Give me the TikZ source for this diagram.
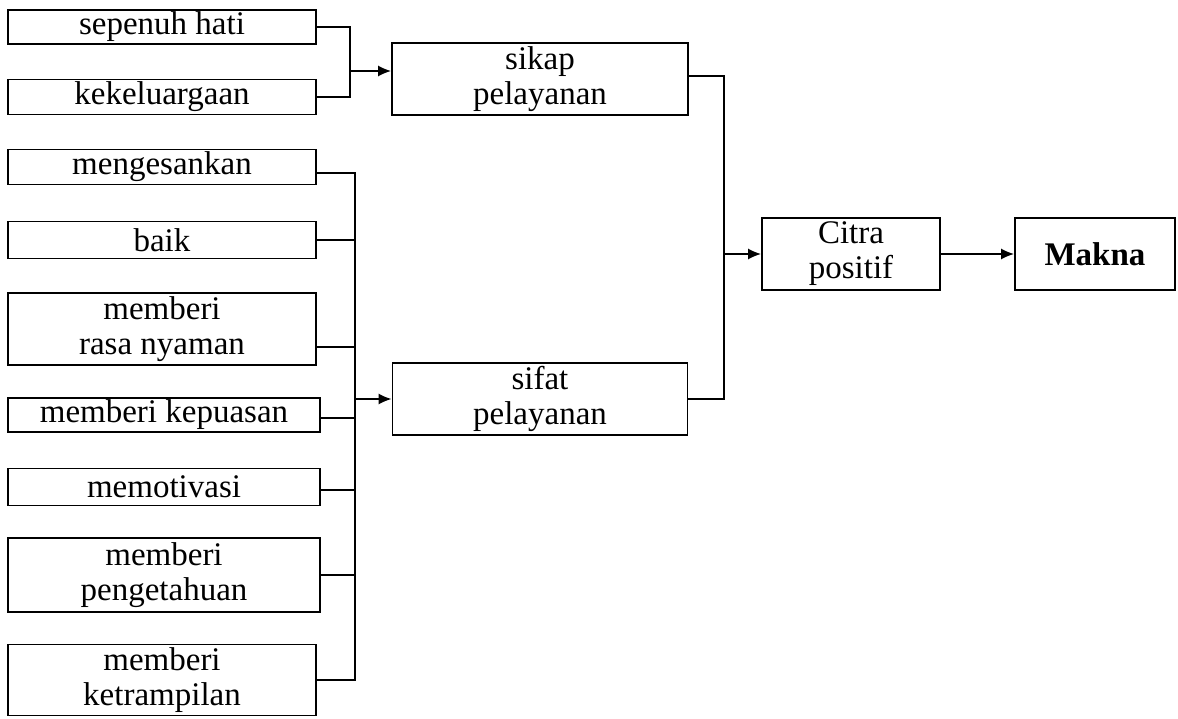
\documentclass[tikz,border=0pt]{standalone}
\usepackage{fontspec}
\setmainfont{Liberation Serif}
\usetikzlibrary{arrows.meta}
\begin{document}
\begin{tikzpicture}[x=1pt,y=-1pt,
  box/.style={draw,line width=1.8pt,inner sep=0pt,align=center,
    font=\fontsize{33}{35}\selectfont},
  link/.style={line width=1.6pt},
  arr/.style={link,-{Latex[length=13pt,width=11pt]}}]
\useasboundingbox (0,0) rectangle (1178,718);
% left column
\node[box,minimum width=308pt,minimum height=34pt] (a) at (162,27) {sepenuh hati};
\node[box,minimum width=308pt,minimum height=35pt] (b) at (162,97) {kekeluargaan};
\node[box,minimum width=308pt,minimum height=35pt] (c) at (162,167) {mengesankan};
\node[box,minimum width=308pt,minimum height=37pt] (d) at (162,240) {baik};
\node[box,minimum width=308pt,minimum height=72pt] (e) at (162,329) {memberi\\rasa nyaman};
\node[box,minimum width=312pt,minimum height=34pt] (f) at (164,415) {memberi kepuasan};
\node[box,minimum width=312pt,minimum height=37pt] (g) at (164,487) {memotivasi};
\node[box,minimum width=312pt,minimum height=74pt] (h) at (164,575) {memberi\\pengetahuan};
\node[box,minimum width=308pt,minimum height=71pt] (i) at (162,680) {memberi\\ketrampilan};
% middle
\node[box,minimum width=296pt,minimum height=72pt] (sikap) at (540,79) {sikap\\pelayanan};
\node[box,minimum width=295pt,minimum height=72pt] (sifat) at (540,399) {sifat\\pelayanan};
% right
\node[box,minimum width=178pt,minimum height=72pt] (citra) at (851,254) {Citra\\positif};
\node[box,minimum width=160pt,minimum height=72pt] (makna) at (1095,254) {\bfseries Makna};
% first merge
\coordinate (jA) at (350,97);
\coordinate (jA2) at (350,71);
\draw[link] (a.east) -| (jA) -- (b.east);
\draw[arr] (jA2) -- (jA2 -| sikap.west);
% second bus
\coordinate (bb) at (355,680);
\draw[link] ([yshift=-6pt]c.east) -| (bb) -- (i.east);
\draw[link] (d.east) -- (d.east -| bb);
\draw[link] ([yshift=-18pt]e.east) -- ([yshift=-18pt]e.east -| bb);
\draw[link] ([yshift=-3pt]f.east) -- ([yshift=-3pt]f.east -| bb);
\draw[link] ([yshift=-3pt]g.east) -- ([yshift=-3pt]g.east -| bb);
\draw[link] (h.east) -- (h.east -| bb);
\draw[arr] (sifat.west -| bb) -- (sifat.west);
% right bus
\coordinate (rb) at (724,399);
\draw[link] ([yshift=3pt]sikap.east) -| (rb) -- (sifat.east);
\draw[arr] (citra.west -| rb) -- (citra.west);
\draw[arr] (citra) -- (makna);
\end{tikzpicture}
\end{document}
